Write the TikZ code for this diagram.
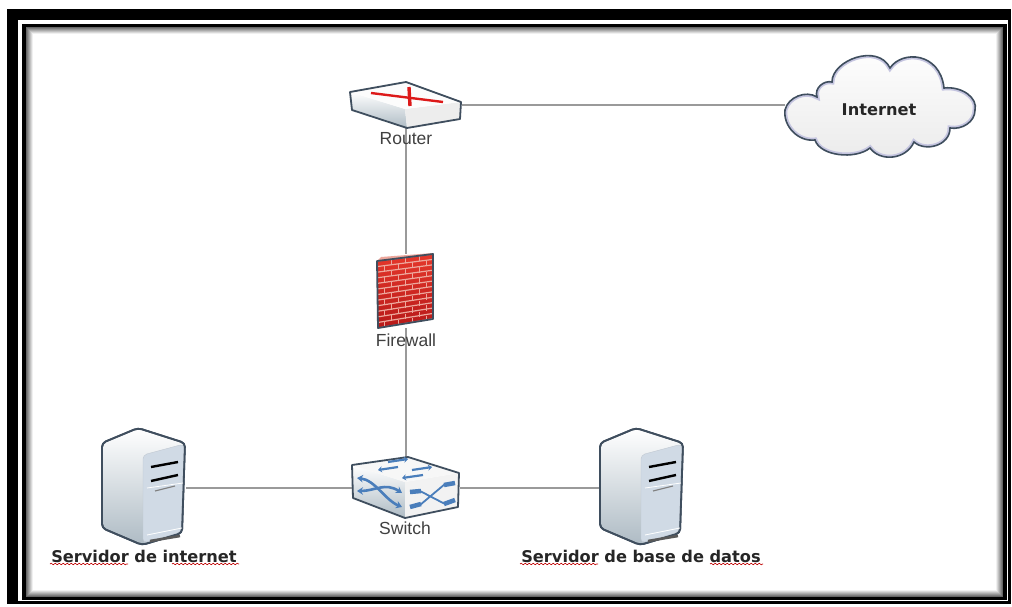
\documentclass[tikz,border=0pt]{standalone}
\usepackage{fontspec}
\setmainfont{Liberation Sans}
\newfontfamily\verafont{DejaVu Sans}
\usetikzlibrary{arrows.meta,decorations.pathmorphing}
\definecolor{edgeslate}{HTML}{3F4E5E}
\definecolor{linkgray}{HTML}{9A9A9A}
\definecolor{swblue}{HTML}{4A7EBB}
\definecolor{panelblue}{HTML}{D0DAE5}
\definecolor{facegray}{HTML}{AEBBC4}
\definecolor{mortar}{HTML}{EDA79C}
\definecolor{brickhi}{HTML}{E8392C}
\definecolor{bricklo}{HTML}{B51818}
\tikzset{
  devicebox/.style={inner sep=0pt, outer sep=0pt, minimum width=#1},
  link/.style={draw=linkgray, line width=1.8pt},
  swarrow/.style={draw=swblue, line width=2.6pt, {Stealth[length=6pt,width=7.5pt]}-{Stealth[length=6pt,width=7.5pt]}},
  swtop/.style={draw=swblue, line width=2.2pt, -{Stealth[length=4pt,width=6pt]}},
  devlabel/.style={font=\fontsize{17.5}{20}\selectfont, text=black!75, inner sep=0pt},
  srvlabel/.style={font=\verafont\bfseries\fontsize{16.2}{18}\selectfont, text=black!85, inner sep=0pt},
  squiggle/.style={draw=red!75!black, line width=0.6pt, decorate, decoration={snake, amplitude=0.8pt, segment length=4pt}},
  serverbox/.pic={
    % body
    \draw[edgeslate, line width=1.8pt, rounded corners=4pt, top color=white, bottom color=facegray]
      (-42,-45) -- (-6,-60) -- (41,-45) -- (38,45) -- (-2,57) -- (-42,40) -- cycle;
    % front panel
    \draw[panelblue!80!gray, fill=panelblue, rounded corners=4pt]
      (-1,-33) -- (40,-44) -- (37,44) -- (-1,55) -- cycle;
    \draw[edgeslate, line width=1.8pt, rounded corners=4pt]
      (-42,-45) -- (-6,-60) -- (41,-45) -- (38,45) -- (-2,57) -- (-42,40) -- cycle;
    % drive slots
    \draw[black, line width=2.4pt] (7,-21) -- (34,-26);
    \draw[black, line width=2.4pt] (7,-7) -- (34,-13);
    \draw[black!50, line width=1.2pt] (11,3) -- (31,-2);
    \draw[white, line width=0.8pt] (3,0) -- (39,-5);
    \draw[white, line width=0.8pt] (3,47) -- (38,40);
    \draw[black!65, line width=2.6pt] (6,53) -- (36,48);
  }
}
\newcommand{\cloudoutline}{(785,110)
  .. controls (788,97) and (806,90) .. (817,97)
  .. controls (814,88) and (824,80) .. (832,82)
  .. controls (832,60) and (878,43) .. (890,68)
  .. controls (902,50) and (940,52) .. (944,88)
  .. controls (962,86) and (978,98) .. (975,110)
  .. controls (975,122) and (962,130) .. (950,128)
  .. controls (950,146) and (925,152) .. (914,142)
  .. controls (906,160) and (880,162) .. (870,148)
  .. controls (855,160) and (820,156) .. (815,140)
  .. controls (798,142) and (783,126) .. (785,110) -- cycle}

\begin{document}
\begin{tikzpicture}[x=1pt,y=-1pt]
    \useasboundingbox (0,0) rectangle (1012,607);

    % Frame
    \fill[white] (0,0) rectangle (1012,607);
    \fill[black] (7,9) rectangle (1011,604);
    \fill[white] (18,20) rectangle (1008,601);
    \fill[black] (22,24) rectangle (1007,600);
    \foreach \i in {0,...,6}
        \fill[black!\the\numexpr 60-9*\i\relax] ({26+\i},{27+\i}) rectangle ({1003-\i},{597-\i});
    \fill[white] (33,34) rectangle (996,590);

    % Device places
    \node[devicebox=111pt, minimum height=46pt] (router) at (406,105) {};
    \node[devicebox=190pt, minimum height=100pt] (cloud) at (880,105) {};
    \node[devicebox=56pt, minimum height=74pt] (firewall) at (406,291) {};
    \node[devicebox=108pt, minimum height=61pt] (switch) at (406,488) {};
    \node[devicebox=84pt, minimum height=116pt] (webserver) at (144,488) {};
    \node[devicebox=84pt, minimum height=116pt] (dbserver) at (642,488) {};

    % Connectors
    \draw[link] (router.east) -- (cloud.west);
    \draw[link] (router.south) -- (firewall.north);
    \draw[link] (firewall.south) -- (switch.north);
    \draw[link] (webserver.east) -- (switch.west);
    \draw[link] (switch.east) -- (dbserver.west);

    % Router
    \shade[top color=white, bottom color=facegray] (350,92) -- (405,109) -- (407,128) -- (352,110) -- cycle;
    \fill[black!7] (405,109) -- (461,102) -- (460,119) -- (407,128) -- cycle;
    \fill[black!1] (350,92) -- (406,82) -- (461,102) -- (405,109) -- cycle;
    \draw[edgeslate, line width=1.8pt, line join=round] (350,92) -- (406,82) -- (461,102) -- (460,119) -- (407,128) -- (352,110) -- cycle;
    \draw[red!85!black!90, line width=2.4pt] (371,93) -- (443,102);
    \draw[red!85!black!90, line width=3.4pt] (409,87) -- (410,106);

    % Cloud
    \fill[top color=white, bottom color=black!8] \cloudoutline;
    \begin{scope}
        \clip \cloudoutline;
        \draw[blue!30!gray!35, line width=5pt] \cloudoutline;
    \end{scope}
    \draw[edgeslate, line width=1.6pt] \cloudoutline;

    % Firewall
    \fill[mortar] (377,261) -- (381,257) -- (433,253) -- (433,254) -- cycle;
    \begin{scope}
        \clip (377,261) -- (433,254) -- (433,319) -- (378,328) -- cycle;
        \shade[top color=brickhi, bottom color=bricklo] (370,250) rectangle (440,330);
        \foreach \k in {0,...,12} {
            \draw[mortar, line width=1.2pt] (377,{261+\k*5.6}) -- (433,{254+\k*5.4});
            \pgfmathsetmacro{\brickshift}{mod(\k,2)*7}
            \foreach \b in {0,...,4}
                \draw[mortar, line width=1pt]
                    ({377+\brickshift+\b*14},{261+\k*5.6-(\brickshift+\b*14)*0.125})
                    -- ({377+\brickshift+\b*14},{261+(\k+1)*5.6-(\brickshift+\b*14)*0.125});
        }
    \end{scope}
    \draw[edgeslate, line width=1.8pt, line join=round] (377,261) -- (433,254) -- (433,319) -- (378,328) -- cycle;

    % Switch
    \shade[top color=white, bottom color=facegray] (352,465) -- (405,482) -- (405,518) -- (353,498) -- cycle;
    \fill[black!5] (405,482) -- (459,473) -- (458,507) -- (405,518) -- cycle;
    \fill[black!3] (352,465) -- (408,457) -- (459,473) -- (405,482) -- cycle;
    \draw[edgeslate, line width=1.8pt, line join=round] (352,465) -- (408,457) -- (459,473) -- (458,507) -- (405,518) -- (353,498) -- cycle;
    \draw[swtop] (398,467) -- (378,470);
    \draw[swtop] (388,462) -- (408,459);
    \draw[swtop] (412,470) -- (432,467);
    \draw[swtop] (423,475) -- (402,478);
    \draw[swarrow] (357,478) .. controls (375,480) and (385,500) .. (402,507);
    \draw[swarrow] (357,491) .. controls (375,491) and (385,482) .. (402,493);
    \draw[swblue, line width=1.8pt] (420,491) -- (445,504) (420,505) -- (445,484);
    \draw[swblue, line width=4.5pt] (410,492) -- (421,491) (444,504) -- (455,500) (410,507) -- (421,504) (444,485) -- (455,483);

    % Servers
    \pic at (webserver.center) {serverbox};
    \pic at (dbserver.center) {serverbox};

    % Labels
    \node[devlabel] (routerlabel) at (406,139) {Router};
    \node[devlabel] (firewalllabel) at (406,340) {Firewall};
    \node[devlabel] (switchlabel) at (405,528) {Switch};
    \node[srvlabel] (cloudlabel) at (879,110) {Internet};
    \node[srvlabel] (webserverlabel) at (144,556) {Servidor de internet};
    \node[srvlabel] (dbserverlabel) at (641,556) {Servidor de base de datos};

    % Spelling marks
    \coordinate (sqa) at (50,564);
    \coordinate (sqb) at (128,564);
    \coordinate (sqc) at (172,564);
    \coordinate (sqd) at (239,564);
    \coordinate (sqe) at (520,564);
    \coordinate (sqf) at (598,564);
    \coordinate (sqg) at (710,564);
    \coordinate (sqh) at (763,564);
    \draw[squiggle] (sqa) -- (sqb);
    \draw[squiggle] (sqc) -- (sqd);
    \draw[squiggle] (sqe) -- (sqf);
    \draw[squiggle] (sqg) -- (sqh);
\end{tikzpicture}
\end{document}
